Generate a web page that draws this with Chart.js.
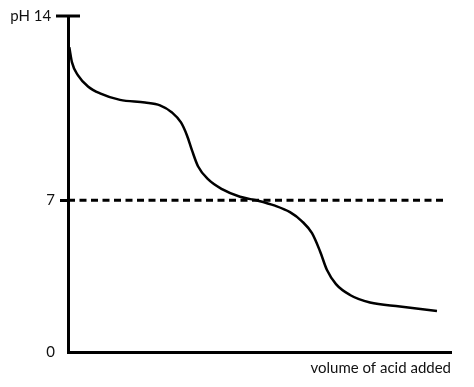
<!DOCTYPE html>
<html lang="en">
<head>
  <meta charset="UTF-8">
  <title>pH titration curve</title>
  <script src="https://cdn.jsdelivr.net/npm/chart.js@4"></script>
  <style>
    body { margin: 0; background: #fff; }
  </style>
</head>
<body>
<canvas id="chart" width="474" height="387"></canvas>
<script>
  // volume of acid added (arbitrary units) and pH
  const volume = [0.34, 1.04, 2.61, 5.22, 8.36, 13.58, 20.1, 24.02, 27.15, 29.5, 31.07, 32.38, 33.94,
    36.55, 40.21, 44.91, 49.61, 54.05, 57.96, 61.1, 63.71, 65.8, 67.62, 69.97, 73.63, 78.85, 86.68, 96.34];
  const pH = [14.06, 13.36, 12.76, 12.25, 11.93, 11.63, 11.51, 11.38, 11.05, 10.59, 9.99, 9.3, 8.57,
    7.97, 7.51, 7.16, 6.98, 6.75, 6.45, 6.03, 5.48, 4.65, 3.78, 3.13, 2.63, 2.28, 2.1, 1.89];

  // dashed neutral line
  const neutralX = [0, 98.96];
  const neutralY = [7, 7];

  // y axis ticks (top of the axis is marked "pH 14")
  const yTicks = [0, 7, 15.5];
  const yTickLabels = ['0', '7', 'pH 14 '];

  const ctx = document.getElementById('chart').getContext('2d');

  // the long tick at the top of the pH axis crosses the axis line
  const topTick = {
    id: 'topTick',
    afterDraw(chart) {
      const y = chart.scales.y;
      const py = y.getPixelForValue(yTicks[yTicks.length - 1]);
      const c = chart.ctx;
      c.save();
      c.strokeStyle = '#000';
      c.lineWidth = 3;
      c.beginPath();
      c.moveTo(y.right - 12, py);
      c.lineTo(y.right + 12, py);
      c.stroke();
      c.restore();
    }
  };

  new Chart(ctx, {
    type: 'line',
    data: {
      datasets: [
        {
          data: volume.map((v, i) => ({ x: v, y: pH[i] })),
          borderColor: '#000',
          borderWidth: 2.5,
          pointRadius: 0,
          cubicInterpolationMode: 'monotone',
          fill: false
        },
        {
          data: neutralX.map((v, i) => ({ x: v, y: neutralY[i] })),
          borderColor: '#000',
          borderWidth: 3,
          borderDash: [7, 4.5],
          pointRadius: 0,
          fill: false
        }
      ]
    },
    options: {
      responsive: false,
      animation: false,
      layout: { padding: { top: 16, right: 23, bottom: 10, left: 0 } },
      plugins: {
        legend: { display: false },
        tooltip: { enabled: false }
      },
      scales: {
        x: {
          type: 'linear',
          min: 0,
          max: 100,
          ticks: { display: false },
          grid: { display: false },
          border: { display: true, color: '#000', width: 3 },
          title: {
            display: true,
            text: 'volume of acid added',
            align: 'end',
            color: '#111',
            padding: 0,
            font: { family: 'Lato', size: 15 }
          },
          afterFit: (scale) => { scale.height = 25; }
        },
        y: {
          type: 'linear',
          min: 0,
          max: 15.5,
          afterBuildTicks: (axis) => { axis.ticks = yTicks.map(v => ({ value: v })); },
          ticks: {
            padding: 5,
            color: '#111',
            font: { family: 'Lato', size: 15 },
            callback: (v) => yTickLabels[yTicks.indexOf(v)]
          },
          grid: {
            drawOnChartArea: false,
            drawTicks: true,
            tickLength: 8,
            lineWidth: 3,
            color: (c) => (c.tick && c.tick.value === 7 ? '#000' : 'rgba(0,0,0,0)')
          },
          border: { display: true, color: '#000', width: 3 },
          afterFit: (scale) => { scale.width = 68; }
        }
      }
    },
    plugins: [topTick]
  });
</script>
</body>
</html>
